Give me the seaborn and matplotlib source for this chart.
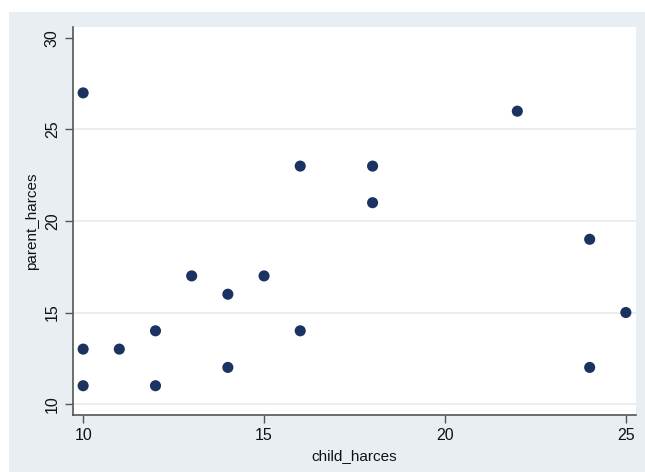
import matplotlib
matplotlib.use("Agg")
import matplotlib.pyplot as plt
import seaborn as sns
import pandas as pd
from matplotlib.patches import Rectangle

child_harces = [10, 10, 10, 11, 12, 12, 13, 14, 14, 15, 16, 16, 18, 18, 22, 24, 24, 25]
parent_harces = [27, 13, 11, 13, 14, 11, 17, 16, 12, 17, 23, 14, 23, 21, 26, 19, 12, 15]
x_ticks = [10, 15, 20, 25]
y_ticks = [10, 15, 20, 25, 30]

df = pd.DataFrame({"child_harces": child_harces, "parent_harces": parent_harces})

sns.set_style("white")
plt.rcParams['font.family'] = ['Liberation Sans', 'DejaVu Sans']

bg = "#E9EEF2"
axis_col = "#555555"

fig = plt.figure(figsize=(6.45, 4.72), dpi=100)
fig.patch.set_facecolor("white")
# stata-like outer panel, leaving a thin white margin top and left
fig.patches.append(Rectangle((9 / 645, 0), 1, 1 - 12 / 472, transform=fig.transFigure,
                             facecolor=bg, edgecolor="none", zorder=-10))

ax = fig.add_axes([73 / 645, 1 - 415 / 472, (636 - 73) / 645, (415 - 27) / 472])
ax.set_facecolor("white")

for yv in y_ticks[:-1]:
    ax.axhline(yv, color="#E3ECF0", lw=1.2, zorder=1)

sns.scatterplot(data=df, x="child_harces", y="parent_harces", ax=ax,
                color="#1c3361", s=64, edgecolor="none", zorder=3)

ax.set_xlim(9.72, 25.28)
ax.set_ylim(9.4, 30.6)
ax.set_xticks(x_ticks)
ax.set_yticks(y_ticks)
ax.set_yticklabels([str(v) for v in y_ticks], rotation=90, va="center")

for side in ["top", "right"]:
    ax.spines[side].set_visible(False)
for side in ["left", "bottom"]:
    ax.spines[side].set_color(axis_col)
    ax.spines[side].set_linewidth(1.2)

ax.tick_params(axis="both", direction="out", length=6, width=1, color=axis_col,
               labelsize=11.5, labelcolor="#111111", left=True, bottom=True)
ax.set_xlabel("child_harces", fontsize=11, color="#111111", labelpad=4)
ax.set_ylabel("parent_harces", fontsize=11, color="#111111", labelpad=4)

fig.savefig("out.png", dpi=100)
plt.close(fig)
